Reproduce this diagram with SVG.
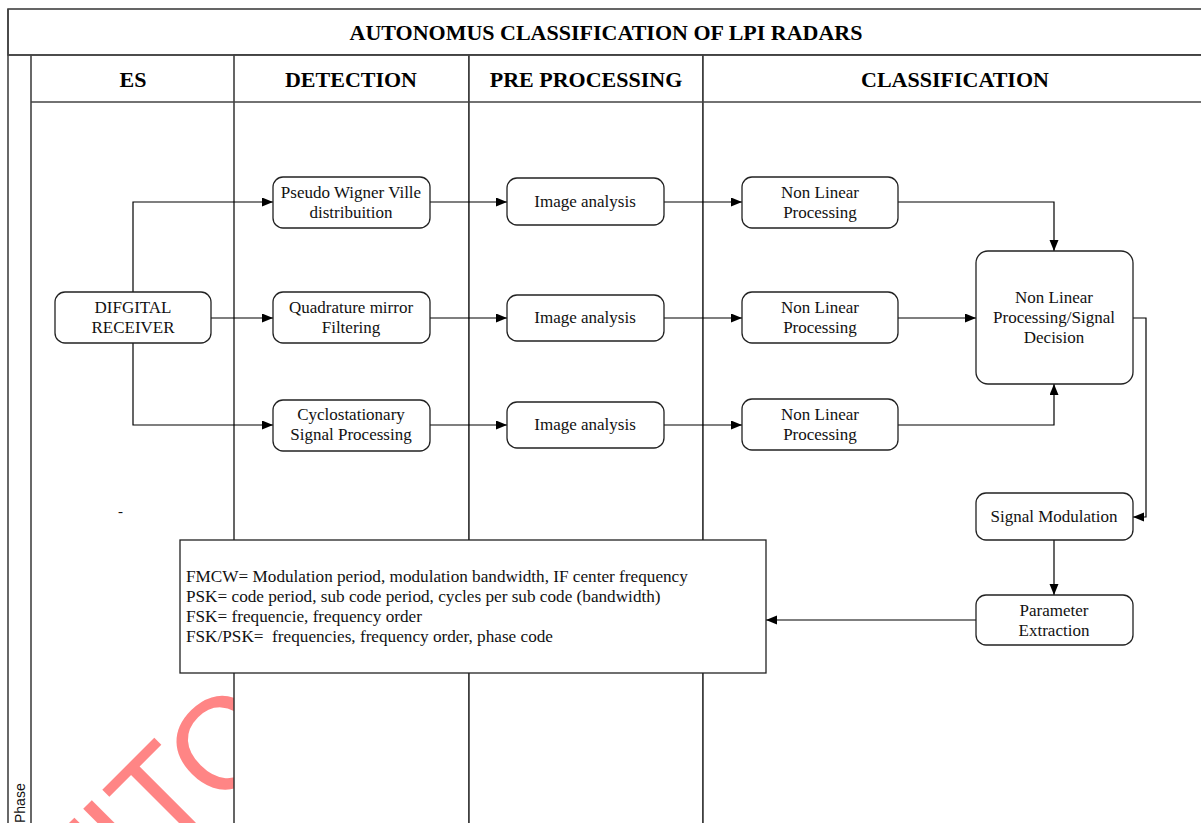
<svg xmlns="http://www.w3.org/2000/svg" width="1201" height="823" viewBox="0 0 1201 823">
<style>
.frame{fill:#fff;stroke:#333;stroke-width:1.5}
.lane{fill:none;stroke:#444;stroke-width:1.6}
.hd{font-family:"Liberation Serif",serif;font-weight:bold;font-size:22px;fill:#000;text-anchor:middle}
.node rect{fill:#fff;stroke:#222;stroke-width:1.3}
.node text,.note text{font-family:"Liberation Serif",serif;font-size:17px;fill:#111;text-anchor:middle}
.note text{text-anchor:start;font-size:17.2px}
.conn path{fill:none;stroke:#000;stroke-width:1.2}
.wm{font-family:"Liberation Sans",sans-serif;font-size:130px;fill:#ff8585}
</style>
<defs>
<marker id="ah" markerUnits="userSpaceOnUse" markerWidth="12" markerHeight="10" refX="11" refY="4.5" orient="auto">
<path d="M0,0 L11,4.5 L0,9 z" fill="#000"/>
</marker>
</defs>
<rect x="0" y="0" width="1201" height="823" fill="#fff"/>
<g id="watermark">
<text class="wm" transform="translate(163.6,854.9) rotate(-45)" x="-120" y="0">N<tspan x="-36.1">I</tspan><tspan x="0">T</tspan><tspan dx="-6" dy="8">O</tspan></text>
</g>
<g id="pool">
<rect class="frame" x="8" y="9" width="1200" height="46"/>
<rect class="frame" x="234" y="55" width="235" height="780"/>
<rect class="frame" x="469" y="55" width="234" height="780"/>
<rect class="frame" x="703" y="55" width="510" height="780"/>
<path class="lane" d="M8,9 V823 M31,55 V823 M31,102 H1201 M8,55 H1201"/>
<text class="hd" x="606" y="40" font-size="22.5">AUTONOMUS CLASSIFICATION OF LPI RADARS</text>
<text class="hd" x="133" y="87">ES</text>
<text class="hd" x="351" y="87">DETECTION</text>
<text class="hd" x="586" y="87">PRE PROCESSING</text>
<text class="hd" x="955" y="87">CLASSIFICATION</text>
<text transform="translate(25,823) rotate(-90)" font-family="'Liberation Sans',sans-serif" font-size="14" fill="#111">Phase</text>
<text x="118" y="516" font-family="'Liberation Serif',serif" font-size="15" fill="#111">-</text>
</g>
<g id="connectors" class="conn">
<path d="M133,292 V202 H273" marker-end="url(#ah)"/>
<path d="M211,318 H273" marker-end="url(#ah)"/>
<path d="M133,343 V425 H273" marker-end="url(#ah)"/>
<path d="M430,202 H507" marker-end="url(#ah)"/>
<path d="M430,318 H507" marker-end="url(#ah)"/>
<path d="M430,425 H507" marker-end="url(#ah)"/>
<path d="M664,202 H742" marker-end="url(#ah)"/>
<path d="M664,318 H742" marker-end="url(#ah)"/>
<path d="M664,425 H742" marker-end="url(#ah)"/>
<path d="M898,202 H1054 V251" marker-end="url(#ah)"/>
<path d="M898,318 H976" marker-end="url(#ah)"/>
<path d="M898,425 H1054 V384" marker-end="url(#ah)"/>
<path d="M1133,318 H1146 V517 H1133" marker-end="url(#ah)"/>
<path d="M1054,540 V595" marker-end="url(#ah)"/>
<path d="M976,620 H766" marker-end="url(#ah)"/>
</g>
<g id="n-receiver" class="node"><rect x="55" y="292" width="156" height="51" rx="10"/><text x="133" y="313">DIFGITAL</text><text x="133" y="333">RECEIVER</text></g>
<g id="n-pwv" class="node"><rect x="273" y="177" width="157" height="51" rx="10"/><text x="351" y="198">Pseudo Wigner Ville</text><text x="351" y="218">distribuition</text></g>
<g id="n-qmf" class="node"><rect x="273" y="292" width="157" height="51" rx="10"/><text x="351" y="313">Quadrature mirror</text><text x="351" y="333">Filtering</text></g>
<g id="n-csp" class="node"><rect x="273" y="400" width="157" height="51" rx="10"/><text x="351" y="420">Cyclostationary</text><text x="351" y="440">Signal Processing</text></g>
<g id="n-ia1" class="node"><rect x="507" y="178" width="157" height="47" rx="10"/><text x="585" y="207">Image analysis</text></g>
<g id="n-ia2" class="node"><rect x="507" y="295" width="157" height="46" rx="10"/><text x="585" y="323">Image analysis</text></g>
<g id="n-ia3" class="node"><rect x="507" y="402" width="157" height="46" rx="10"/><text x="585" y="430">Image analysis</text></g>
<g id="n-nlp1" class="node"><rect x="742" y="177" width="156" height="51" rx="10"/><text x="820" y="198">Non Linear</text><text x="820" y="218">Processing</text></g>
<g id="n-nlp2" class="node"><rect x="742" y="292" width="156" height="51" rx="10"/><text x="820" y="313">Non Linear</text><text x="820" y="333">Processing</text></g>
<g id="n-nlp3" class="node"><rect x="742" y="399" width="156" height="51" rx="10"/><text x="820" y="420">Non Linear</text><text x="820" y="440">Processing</text></g>
<g id="n-decision" class="node"><rect x="976" y="251" width="157" height="133" rx="12"/><text x="1054" y="303">Non Linear</text><text x="1054" y="323">Processing/Signal</text><text x="1054" y="343">Decision</text></g>
<g id="n-sigmod" class="node"><rect x="976" y="493" width="157" height="47" rx="10"/><text x="1054" y="522">Signal Modulation</text></g>
<g id="n-param" class="node"><rect x="976" y="595" width="157" height="50" rx="10"/><text x="1054" y="616">Parameter</text><text x="1054" y="636">Extraction</text></g>
<g id="n-note" class="note">
<rect x="180" y="540" width="586" height="133" fill="#fff" stroke="#222" stroke-width="1.3"/>
<text x="186" y="582">FMCW= Modulation period, modulation bandwidth, IF center frequency</text>
<text x="186" y="602">PSK= code period, sub code period, cycles per sub code (bandwidth)</text>
<text x="186" y="622">FSK= frequencie, frequency order</text>
<text x="186" y="642" xml:space="preserve">FSK/PSK=  frequencies, frequency order, phase code</text>
</g>
</svg>
